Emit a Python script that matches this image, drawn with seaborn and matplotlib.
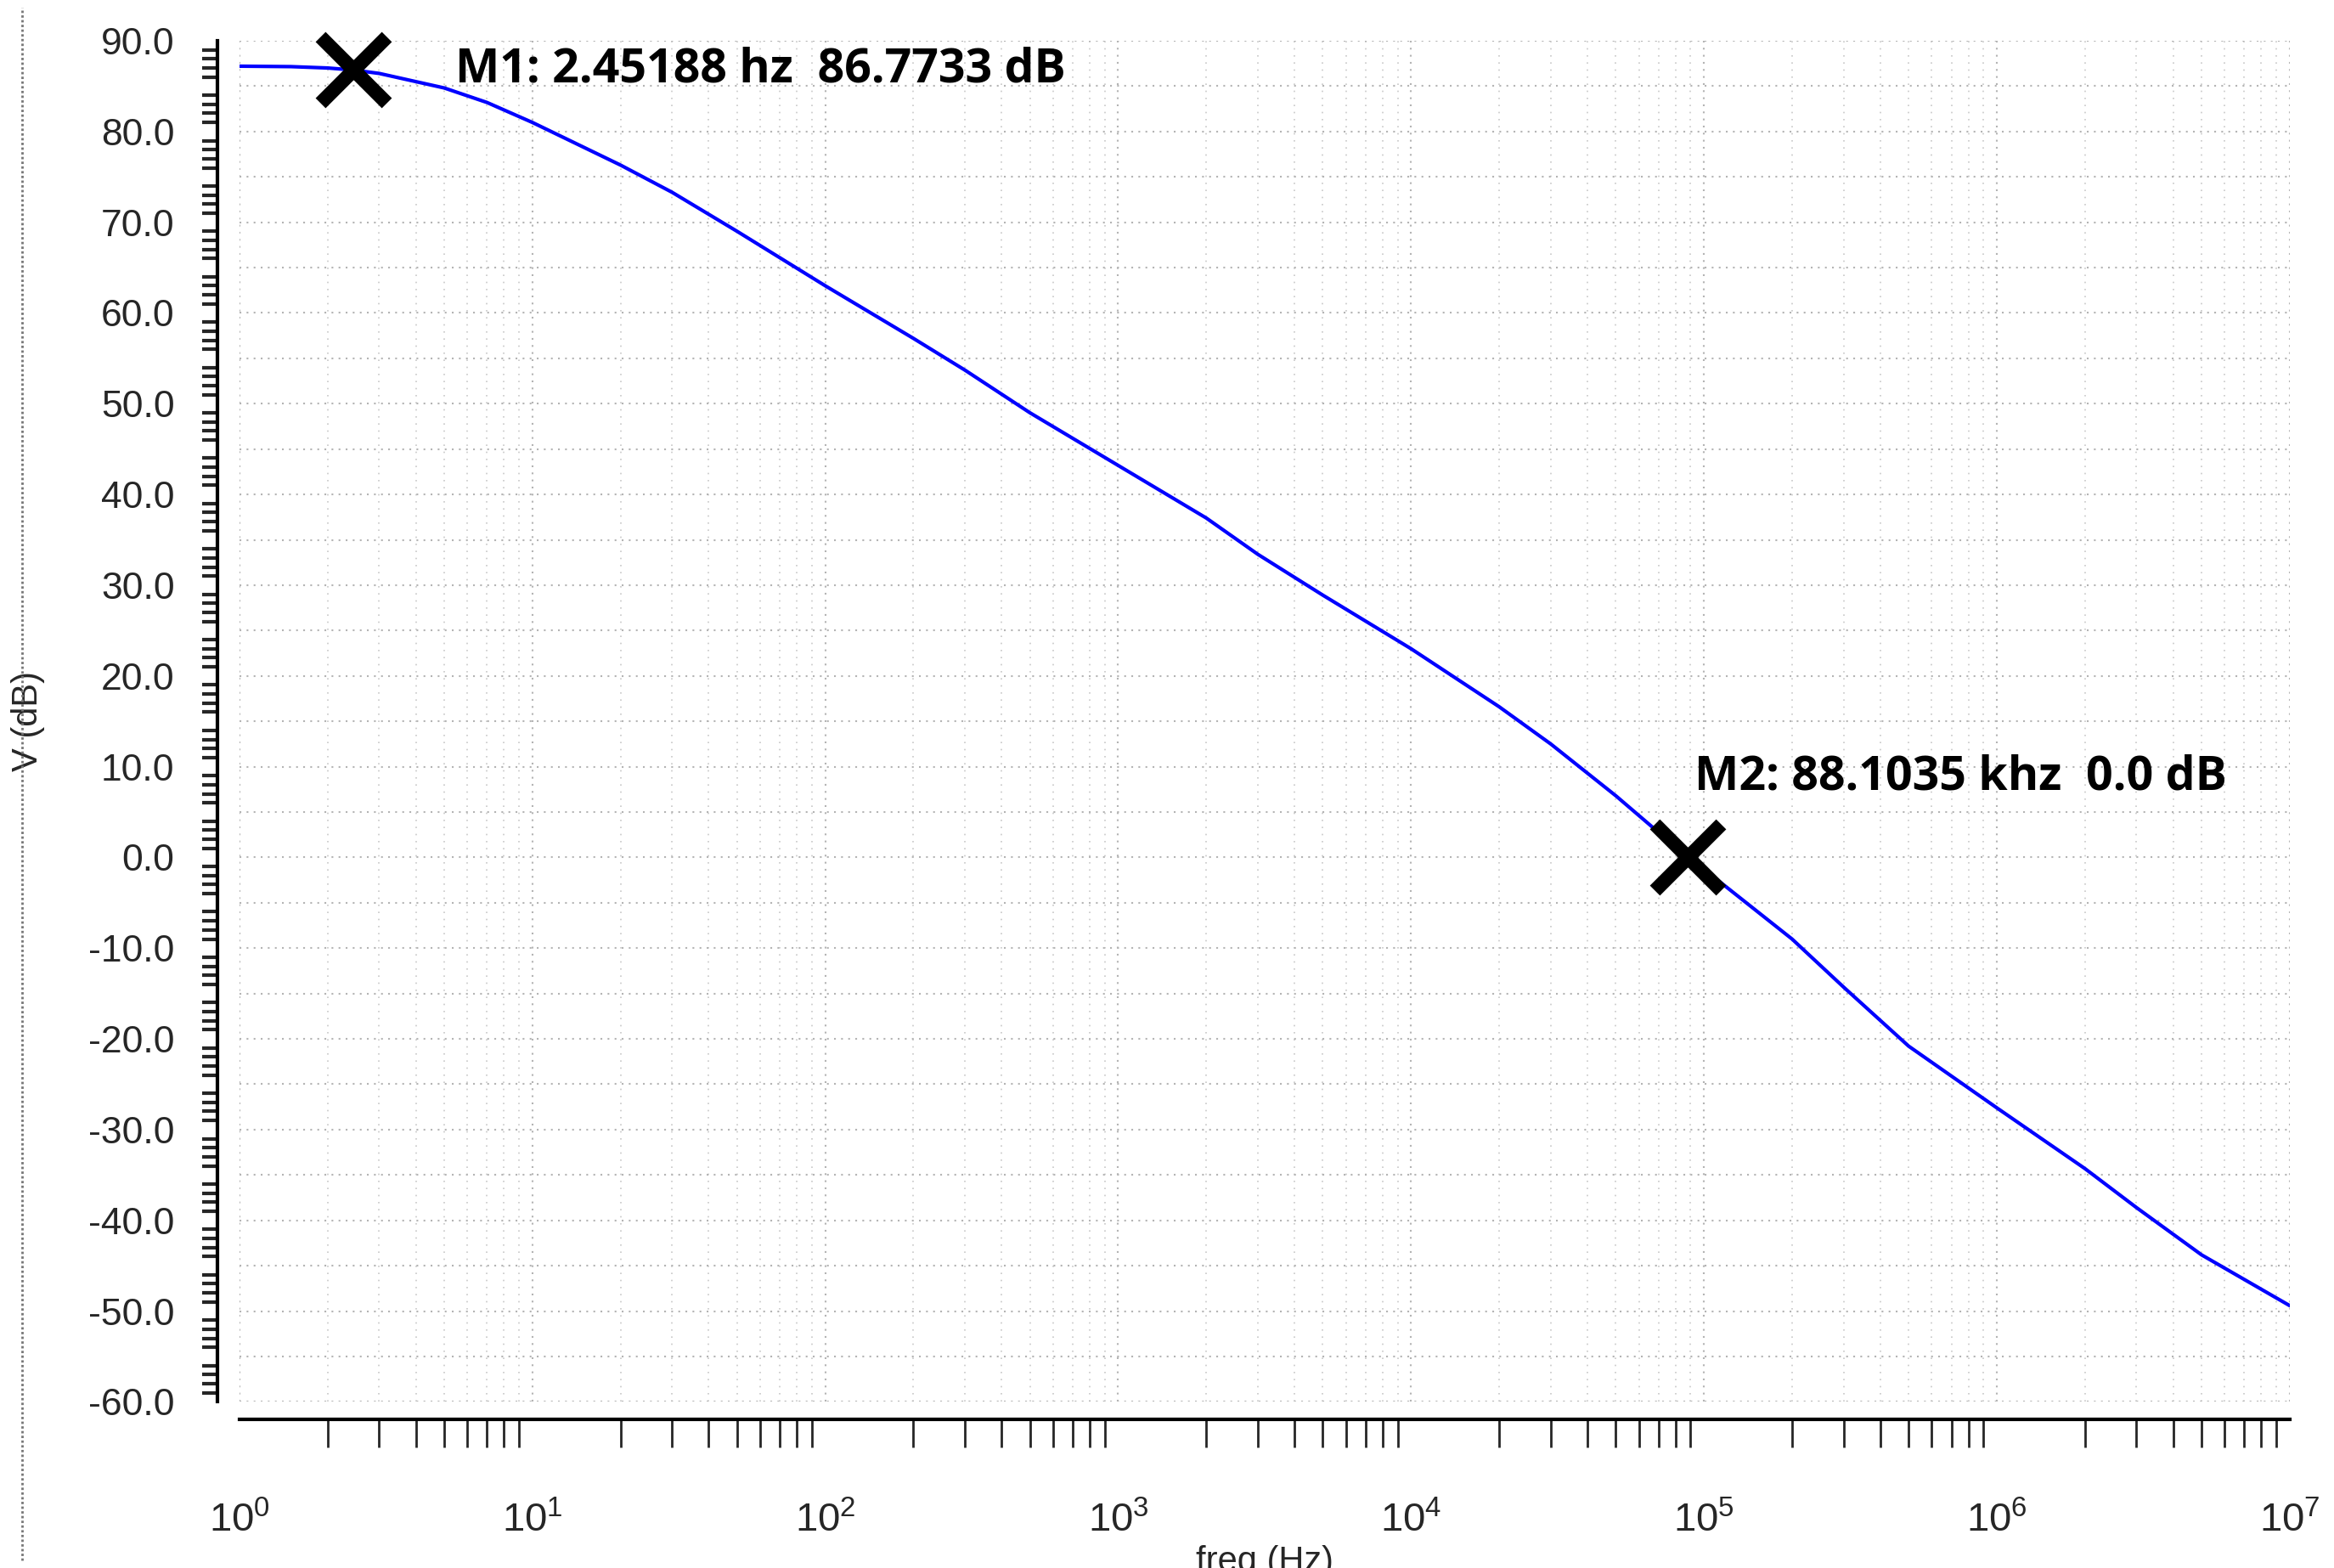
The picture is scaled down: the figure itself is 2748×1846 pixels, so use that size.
import matplotlib
matplotlib.use("Agg")
import matplotlib.pyplot as plt
import matplotlib.ticker as mticker
from matplotlib.lines import Line2D
import seaborn as sns
import pandas as pd
import numpy as np

# values
freq_hz = [1, 1.5, 2, 2.45188, 3, 5, 7, 10, 20, 30, 50, 100, 200, 300, 500,
           1e3, 2e3, 3e3, 5e3, 1e4, 2e4, 3e4, 5e4, 88103.5, 1e5, 2e5, 3e5, 5e5,
           1e6, 2e6, 3e6, 5e6, 1e7]
gain_db = [87.2, 87.15, 87.0, 86.7733, 86.4, 84.8, 83.2, 81.0, 76.3, 73.3, 69.0, 63.0, 57.2, 53.7, 49.0,
           43.2, 37.4, 33.4, 28.9, 23.0, 16.6, 12.5, 6.8, 0.0, -1.3, -9.0, -14.3, -20.8,
           -27.6, -34.3, -38.6, -43.8, -49.4]
markers = [("M1: 2.45188 hz  86.7733 dB", 2.45188, 86.7733, (86, 0), "center"),
           ("M2: 88.1035 khz  0.0 dB", 88103.5, 0.0, (6, 68), "center")]

df = pd.DataFrame({"freq": freq_hz, "gain": gain_db})

sns.set_style("white")
plt.rcParams["font.family"] = ["Liberation Sans", "DejaVu Sans"]

fig = plt.figure(figsize=(27.48, 18.46), dpi=100)
ax = fig.add_axes([0.1026, 0.106, 0.8784, 0.868])

sns.lineplot(data=df, x="freq", y="gain", color="#0000ff", linewidth=3, ax=ax)

ax.set_xscale("log")
ax.set_xlim(1, 1e7)
ax.set_ylim(-60, 90)

ax.yaxis.set_major_locator(mticker.MultipleLocator(5))
ax.yaxis.set_minor_locator(mticker.MultipleLocator(1))
ax.yaxis.set_major_formatter(mticker.FuncFormatter(
    lambda v, p: "%.1f" % v if round(v) % 10 == 0 else ""))
ax.xaxis.set_major_locator(mticker.LogLocator(base=10, numticks=20))
ax.xaxis.set_minor_locator(mticker.LogLocator(base=10, subs=np.arange(2, 10), numticks=20))
ax.xaxis.set_major_formatter(mticker.LogFormatterMathtext())

ax.grid(which="major", color="#b4b4b4", linestyle=(0, (1, 3)), linewidth=1.5)
ax.grid(which="minor", axis="x", color="#c8c8c8", linestyle=(0, (1, 4)), linewidth=1.2)
ax.set_axisbelow(True)

for s in ["top", "right"]:
    ax.spines[s].set_visible(False)
ax.spines["left"].set_position(("outward", 19))
ax.spines["bottom"].set_position(("outward", 15))
for s in ["left", "bottom"]:
    ax.spines[s].set_color("black")
    ax.spines[s].set_linewidth(3)

ax.tick_params(axis="y", which="major", direction="out", length=26, width=3, labelsize=32, pad=10)
ax.tick_params(axis="y", which="minor", direction="out", length=13, width=3, left=True)
ax.tick_params(axis="x", which="major", direction="out", length=36, width=2, labelsize=34, pad=34)
ax.tick_params(axis="x", which="minor", direction="out", length=24, width=2, bottom=True)

ax.set_xlabel("freq (Hz)", fontsize=30, labelpad=0)
ax.set_ylabel("V (dB)", fontsize=30, labelpad=10)
ax.xaxis.set_label_coords(0.5, -0.105)
ax.yaxis.set_label_coords(-0.095, 0.5)

for label, fx, gy, offs, va in markers:
    ax.plot(fx, gy, marker="x", markersize=56, markeredgewidth=12, color="black",
            clip_on=False, zorder=5)
    ax.annotate(label, (fx, gy), xytext=offs, textcoords="offset points",
                fontsize=40, fontweight="bold", family=["Open Sans", "DejaVu Sans"],
                color="black", va=va)

fig.add_artist(Line2D([0.0095, 0.0095], [0.005, 0.995], transform=fig.transFigure,
                      color="#777777", linestyle=(0, (1, 1)), linewidth=2))

fig.savefig("out.png", dpi=100, facecolor="white")
